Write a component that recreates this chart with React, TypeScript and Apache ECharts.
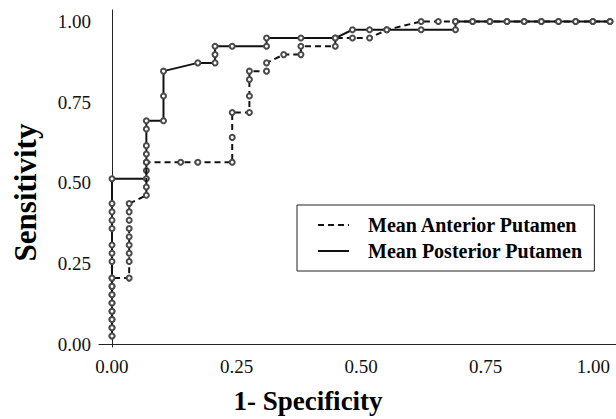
import React, { useEffect, useRef } from "react";
import * as echarts from "echarts";

// 1 - Specificity (x) and Sensitivity (y)
const posteriorX = [
  0, 0, 0, 0, 0, 0, 0, 0, 0, 0, 0, 0, 0, 0, 0, 0,
  0.069, 0.069, 0.069, 0.069, 0.069, 0.069, 0.069,
  0.1034, 0.1034, 0.1034,
  0.1724, 0.2069, 0.2069, 0.2069,
  0.2414, 0.3103, 0.3103,
  0.3793, 0.4483, 0.4828,
  0.5172, 0.5517, 0.6207, 0.6897, 0.6897,
  0.7241, 0.7586, 0.7931, 0.8276, 0.8621, 0.8966, 0.931, 0.9655, 1,
];
const posteriorY = [
  0.0256, 0.0513, 0.0769, 0.1026, 0.1282, 0.1538, 0.1795, 0.2051, 0.2564, 0.2821, 0.3077, 0.359, 0.3846, 0.4103, 0.4359, 0.5128,
  0.5128, 0.5385, 0.5641, 0.5897, 0.6154, 0.6667, 0.6923,
  0.6923, 0.7692, 0.8462,
  0.8718, 0.8718, 0.8974, 0.9231,
  0.9231, 0.9231, 0.9487,
  0.9487, 0.9487, 0.9744,
  0.9744, 0.9744, 0.9744, 0.9744, 1,
  1, 1, 1, 1, 1, 1, 1, 1, 1,
];
const anteriorX = [
  0, 0, 0, 0, 0, 0, 0, 0,
  0.0345, 0.0345, 0.0345, 0.0345, 0.0345, 0.0345, 0.0345, 0.0345, 0.0345,
  0.069, 0.069, 0.069,
  0.1379, 0.1724, 0.2414, 0.2414, 0.2414,
  0.2759, 0.2759, 0.2759, 0.2759,
  0.3103, 0.3103,
  0.3448, 0.3793, 0.3793,
  0.4483, 0.4483, 0.4828, 0.5172,
  0.5517, 0.6207, 0.6552, 0.6897,
  0.7241, 0.7586, 0.7931, 0.8276, 0.8621, 0.8966, 0.931, 0.9655, 1,
];
const anteriorY = [
  0.0256, 0.0513, 0.0769, 0.1026, 0.1282, 0.1538, 0.1795, 0.2051,
  0.2051, 0.2564, 0.2821, 0.3077, 0.3333, 0.359, 0.3846, 0.4103, 0.4359,
  0.4615, 0.4872, 0.5641,
  0.5641, 0.5641, 0.5641, 0.641, 0.7179,
  0.7179, 0.7692, 0.8205, 0.8462,
  0.8462, 0.8718,
  0.8974, 0.8974, 0.9231,
  0.9231, 0.9487, 0.9487, 0.9487,
  0.9744, 1, 1, 1,
  1, 1, 1, 1, 1, 1, 1, 1, 1,
];
const tickValues = [0, 0.25, 0.5, 0.75, 1];
const seriesNames = ["Mean Anterior Putamen", "Mean Posterior Putamen"];

const FONT = "'Liberation Serif', 'Times New Roman', serif";

function zip(xs: number[], ys: number[]) {
  return xs.map((x, i) => [x, ys[i]]);
}

export default function App() {
  const ref = useRef<HTMLDivElement>(null);
  useEffect(() => {
    if (!ref.current) return;
    const chart = echarts.init(ref.current, undefined, { renderer: "svg" });
    const symbolStyle = { color: "#4a4a4a", borderWidth: 1 };
    chart.setOption({
      animation: false,
      backgroundColor: "#fff",
      grid: { left: 99, right: 0, top: 10, bottom: 69, containLabel: false },
      xAxis: {
        type: "value",
        min: -0.0261,
        max: 1.012,
        name: "1- Specificity",
        nameLocation: "middle",
        nameGap: 40,
        nameTextStyle: {
          fontFamily: FONT,
          fontWeight: "bold",
          fontSize: 27,
          color: "#000",
          padding: [0, 99, 0, 0],
        },
        axisLine: { show: true, lineStyle: { color: "#222", width: 1 } },
        axisTick: { show: false },
        splitLine: { show: false },
        axisLabel: {
          customValues: tickValues,
          formatter: (v: number) => v.toFixed(2),
          fontFamily: FONT,
          fontSize: 19,
          color: "#111",
          margin: 10,
          alignMaxLabel: "right",
        },
      },
      yAxis: {
        type: "value",
        min: -0.0083,
        max: 1.0356,
        name: "Sensitivity",
        nameLocation: "middle",
        nameGap: 58,
        nameTextStyle: {
          fontFamily: FONT,
          fontWeight: "bold",
          fontSize: 31,
          color: "#000",
          padding: [0, 28, 0, 0],
        },
        axisLine: { show: true, lineStyle: { color: "#222", width: 1 } },
        axisTick: { show: false },
        splitLine: { show: false },
        axisLabel: {
          customValues: tickValues,
          formatter: (v: number) => v.toFixed(2),
          fontFamily: FONT,
          fontSize: 19,
          color: "#111",
          margin: 8,
        },
      },
      legend: {
        orient: "vertical",
        left: 297,
        top: 205,
        data: seriesNames,
        backgroundColor: "#fff",
        borderColor: "#222",
        borderWidth: 1,
        padding: [10, 12, 10, 20],
        itemWidth: 31,
        itemHeight: 14,
        itemGap: 6,
        itemStyle: { opacity: 0 },
        textStyle: {
          fontFamily: FONT,
          fontWeight: "bold",
          fontSize: 20,
          lineHeight: 20,
          color: "#000",
          padding: [0, 0, 0, 14],
        },
      },
      series: [
        {
          name: seriesNames[1],
          type: "line",
          data: zip(posteriorX, posteriorY),
          symbol: "emptyCircle",
          symbolSize: 5,
          showAllSymbol: true,
          lineStyle: { color: "#111", width: 2, type: "solid" },
          itemStyle: symbolStyle,
          z: 2,
        },
        {
          name: seriesNames[0],
          type: "line",
          data: zip(anteriorX, anteriorY),
          symbol: "emptyCircle",
          symbolSize: 5,
          showAllSymbol: true,
          lineStyle: { color: "#111", width: 2, type: [6, 4] },
          itemStyle: symbolStyle,
          z: 3,
        },
      ],
    });
    return () => chart.dispose();
  }, []);
  return (
    <div
      ref={ref}
      style={{ position: "fixed", left: 0, top: 0, width: 616, height: 419, background: "#fff" }}
    />
  );
}
